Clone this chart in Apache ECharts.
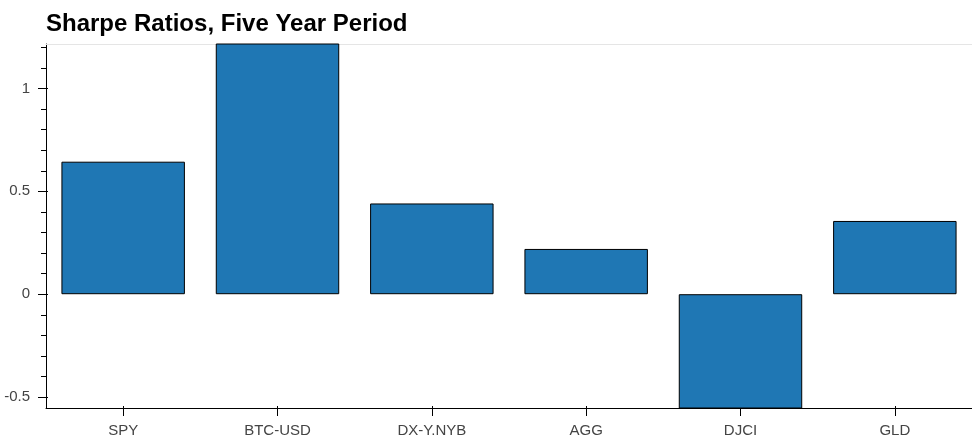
<!DOCTYPE html>
<html>
<head>
<meta charset="utf-8">
<title>Sharpe Ratios, Five Year Period</title>
<script src="https://cdn.jsdelivr.net/npm/echarts@6/dist/echarts.min.js"></script>
<style>
  html, body { margin: 0; padding: 0; background: #fff; }
  #chart { width: 972px; height: 447px; }
</style>
</head>
<body>
<div id="chart"></div>
<script>
  // data (BTC-USD and DJCI run past the visible range)
  const tickers = ['SPY', 'BTC-USD', 'DX-Y.NYB', 'AGG', 'DJCI', 'GLD'];
  const sharpe = [0.644, 1.45, 0.441, 0.220, -0.68, 0.356];

  // y range shown and tick positions
  const yMin = -0.553;
  const yMax = 1.216;
  const yMajor = [-0.5, 0, 0.5, 1];
  const yMinor = [-0.5, -0.4, -0.3, -0.2, -0.1, 0, 0.1, 0.2, 0.3, 0.4, 0.5,
                  0.6, 0.7, 0.8, 0.9, 1, 1.1, 1.2];

  const font = '"Liberation Sans", Arial, Helvetica, sans-serif';
  const labelColor = '#444';

  const chart = echarts.init(document.getElementById('chart'));

  // a bare y axis used only to draw extra ticks
  const tickAxis = (values, len, inside) => ({
    type: 'value',
    min: yMin,
    max: yMax,
    position: 'left',
    axisLine: { show: false },
    splitLine: { show: false },
    axisLabel: { show: false },
    axisTick: {
      show: true,
      inside: inside,
      length: len,
      customValues: values,
      lineStyle: { color: '#000', width: 1 }
    }
  });

  const option = {
    animation: false,
    title: {
      text: 'Sharpe Ratios, Five Year Period',
      left: 41,
      top: 7,
      textStyle: { fontFamily: font, fontSize: 24, fontWeight: 'bold', color: '#000' }
    },
    grid: {
      left: 46,
      right: 0,
      top: 44,
      bottom: 39,
      show: false
    },
    xAxis: [
      {
        type: 'category',
        data: tickers,
        axisLine: { onZero: false, lineStyle: { color: '#000', width: 1 } },
        axisTick: { show: true, alignWithLabel: true, length: 8, lineStyle: { color: '#000' } },
        axisLabel: { color: labelColor, fontFamily: font, fontSize: 15, margin: 15 },
        splitLine: { show: false }
      },
      {
        type: 'category',
        data: tickers,
        position: 'bottom',
        axisLine: { show: false, onZero: false },
        axisTick: { show: true, alignWithLabel: true, inside: true, length: 2, lineStyle: { color: '#000' } },
        axisLabel: { show: false },
        splitLine: { show: false }
      },
      {
        // light outline along the top of the frame
        type: 'category',
        data: tickers,
        position: 'top',
        axisLine: { show: true, onZero: false, lineStyle: { color: '#e5e5e5', width: 1 } },
        axisTick: { show: false },
        axisLabel: { show: false },
        splitLine: { show: false }
      }
    ],
    yAxis: [
      {
        type: 'value',
        min: yMin,
        max: yMax,
        position: 'left',
        axisLine: { show: true, lineStyle: { color: '#000', width: 1 } },
        splitLine: { show: false },
        axisTick: {
          show: true,
          length: 8,
          customValues: yMajor,
          lineStyle: { color: '#000', width: 1 }
        },
        axisLabel: {
          color: labelColor,
          fontFamily: font,
          fontSize: 15,
          margin: 16,
          customValues: yMajor,
          formatter: v => String(v)
        }
      },
      tickAxis(yMinor, 5, false),
      tickAxis(yMajor, 2, true)
    ],
    series: [
      {
        type: 'bar',
        data: sharpe,
        barWidth: '80%',
        itemStyle: { color: '#1f77b4', borderColor: '#000', borderWidth: 1 }
      }
    ]
  };

  chart.setOption(option);
</script>
</body>
</html>
